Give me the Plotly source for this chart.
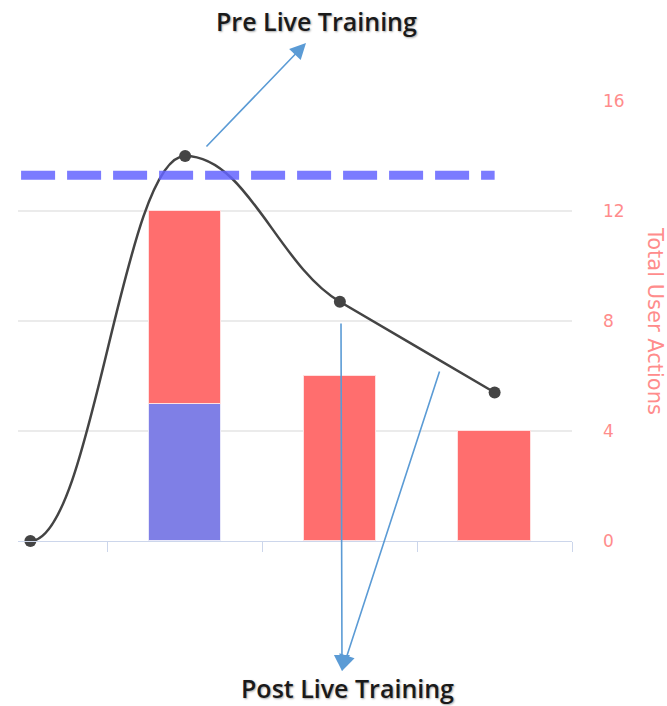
import plotly.graph_objects as go

# ---- data ----
bar_x = [1, 2, 3]
blue_values = [5, 0, 0]
red_values = [7, 6, 4]
line_x = [0, 1, 2, 3]
line_values = [0, 14, 8.7, 5.4]
dash_x = [-0.06, 3.0]
dash_level = 13.3
y_ticks = [0, 4, 8, 12, 16]
x_ticks = [0.5, 1.5, 2.5, 3.5]

RED = "#FF6E6E"
BLUE = "#7F7FE6"
AX_RED = "#FF8C8C"
ARROW = "#5B9BD5"


def monotone_path(xs, ys, k=0.4):
    """Smooth cubic path through the points (monotone tangents, flat at extremes)."""
    n = len(xs)
    sec = [(ys[i + 1] - ys[i]) / (xs[i + 1] - xs[i]) for i in range(n - 1)]
    m = [0.0] * n
    for i in range(1, n - 1):
        a, b = sec[i - 1], sec[i]
        if a * b <= 0:
            m[i] = 0.0
        else:
            p = (a + b) / 2
            m[i] = (1 if a > 0 else -1) * min(abs(a), abs(b), abs(p))
    m[0] = 0.0
    m[-1] = (3 * sec[-1] - m[-2]) / 2
    path = f"M {xs[0]},{ys[0]}"
    for i in range(n - 1):
        dx = xs[i + 1] - xs[i]
        c1 = (xs[i] + k * dx, ys[i] + k * dx * m[i])
        c2 = (xs[i + 1] - k * dx, ys[i + 1] - k * dx * m[i + 1])
        path += f" C {c1[0]},{c1[1]} {c2[0]},{c2[1]} {xs[i + 1]},{ys[i + 1]}"
    return path


fig = go.Figure()

fig.add_trace(go.Bar(x=bar_x, y=blue_values, width=0.47,
                     marker=dict(color=BLUE, line=dict(color="#E8E8FA", width=1)), showlegend=False))
fig.add_trace(go.Bar(x=bar_x, y=red_values, width=0.47,
                     marker=dict(color=RED, line=dict(color="#FFE0E0", width=1)), showlegend=False))

fig.add_trace(go.Scatter(x=line_x, y=line_values, mode="markers",
                         marker=dict(size=12, color="#444444"), cliponaxis=False, showlegend=False))

shapes = [
    dict(type="path", xref="x", yref="y", path=monotone_path(line_x, line_values),
         line=dict(color="#444444", width=2.5), layer="above"),
    dict(type="line", xref="x", yref="y", x0=dash_x[0], x1=dash_x[1], y0=dash_level, y1=dash_level,
         line=dict(color="rgba(100,100,255,0.85)", width=9, dash="34px,12px"), layer="above"),
]

W, H = 667, 706
L, R, T, B = 18, 95, 101, 165

fig.update_layout(
    width=W, height=H,
    margin=dict(l=L, r=R, t=T, b=B),
    barmode="stack", bargap=0,
    plot_bgcolor="white", paper_bgcolor="white",
    font=dict(family="DejaVu Sans", color=AX_RED),
    shapes=shapes,
)

fig.update_xaxes(range=[-0.08, 3.5], tickvals=x_ticks, ticks="outside", ticklen=10,
                 tickcolor="#CCD6EB", tickwidth=1, showticklabels=False, showgrid=False,
                 showline=True, linecolor="#CCD6EB", linewidth=1, zeroline=False, fixedrange=True)
fig.update_yaxes(range=[0, 16], tickvals=y_ticks, side="right", showgrid=True, gridcolor="#EBEBEB",
                 gridwidth=2, zeroline=False, showline=False, ticks="", ticklabelstandoff=30,
                 tickfont=dict(size=17, color=AX_RED, family="DejaVu Sans"), fixedrange=True)

PW, PH = W - L - R, H - T - B


def px(sx):  # screen x -> paper x
    return (sx - L) / PW


def py(sy):  # screen y -> paper y
    return (H - B - sy) / PH


TEXT_FONT = dict(family="Open Sans", size=25, color="#1a1a1a", weight=600,
                 shadow="1px 1px 2px rgba(0,0,0,0.35)")
ARW = dict(showarrow=True, arrowhead=2, arrowsize=2.0, arrowwidth=1.6, arrowcolor=ARROW, text="",
           xref="paper", yref="paper")

annotations = [
    dict(x=px(316), y=py(21), xref="paper", yref="paper", text="Pre Live Training",
         xanchor="center", yanchor="middle", showarrow=False, font=TEXT_FONT),
    dict(x=px(347), y=py(688), xref="paper", yref="paper", text="Post Live Training",
         xanchor="center", yanchor="middle", showarrow=False, font=TEXT_FONT),
    dict(x=px(306), y=py(43), ax=-101, ay=105, **ARW),
    dict(x=px(342), y=py(671), ax=-1, ay=-349, **ARW),
    dict(x=px(342), y=py(671), ax=98, ay=-301, **ARW),
    dict(x=px(655), y=0.5, xref="paper", yref="paper", text="Total User Actions", textangle=90,
         xanchor="center", yanchor="middle", showarrow=False,
         font=dict(family="DejaVu Sans", size=21, color=AX_RED)),
]
fig.update_layout(annotations=annotations)

fig.write_html("out.html", config={"displayModeBar": False},
               post_script="document.body.style.margin='0';document.body.style.overflow='hidden';")
